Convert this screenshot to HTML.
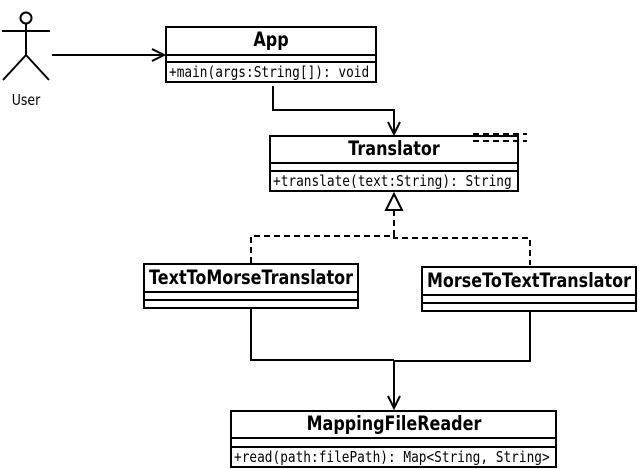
<!DOCTYPE html>
<html><head><style>html,body{margin:0;padding:0;background:#fff}</style></head><body>
<svg width="639" height="469" xmlns="http://www.w3.org/2000/svg" style="display:block">
<g fill="none" stroke="#000" stroke-width="2">
<circle cx="26" cy="18" r="5.5"/>
<line x1="26" y1="24" x2="26" y2="55"/>
<line x1="2" y1="31" x2="50" y2="31"/>
<line x1="26" y1="55" x2="3" y2="80"/>
<line x1="26" y1="55" x2="49" y2="80"/>
<line x1="52" y1="55" x2="164" y2="55"/>
<polyline points="152,49 164,55 152,61"/>
<rect x="166" y="27" width="210" height="55" fill="#fff"/>
<line x1="166" y1="55" x2="376" y2="55"/><line x1="166" y1="62" x2="376" y2="62"/>
<polyline points="273,86 273,110 394,110 394,134"/>
<polyline points="388,122 394,134 400,122"/>
<rect x="270" y="136" width="248" height="55" fill="#fff"/>
<line x1="270" y1="163" x2="518" y2="163"/><line x1="270" y1="171" x2="518" y2="171"/>
<g stroke-dasharray="6,4">
<line x1="473" y1="134" x2="527" y2="134"/><line x1="473" y1="141" x2="527" y2="141"/>
<polyline points="394,210 394,236 251,236 251,264"/>
<polyline points="394,236 394,238 530,238 530,265"/>
</g>
<polygon points="394,194 386,210 402,210" fill="#fff"/>
<rect x="144" y="264" width="214" height="44" fill="#fff"/>
<line x1="144" y1="292" x2="358" y2="292"/><line x1="144" y1="300" x2="358" y2="300"/>
<rect x="422" y="267" width="214" height="44" fill="#fff"/>
<line x1="422" y1="295" x2="636" y2="295"/><line x1="422" y1="303" x2="636" y2="303"/>
<polyline points="251,308 251,360 394,360"/>
<polyline points="530,311 530,361 394,361"/>
<line x1="394" y1="360" x2="394" y2="408"/>
<polyline points="388,396 394,408 400,396"/>
<rect x="231" y="411" width="325" height="56" fill="#fff"/>
<line x1="231" y1="438" x2="556" y2="438"/><line x1="231" y1="447" x2="556" y2="447"/>
</g>
<g style="font-family:'DejaVu Sans','Liberation Sans',sans-serif" fill="#000">
<g transform="translate(26,105) scale(1,1.2)"><text style="font-size:12.5px" text-anchor="middle">User</text></g>
<g style="font-weight:bold;font-size:16px" text-anchor="middle">
<g transform="translate(271,46) scale(1,1.2)"><text>App</text></g>
<g transform="translate(394,155) scale(1,1.2)"><text>Translator</text></g>
<g transform="translate(251,284) scale(1,1.2)"><text>TextToMorseTranslator</text></g>
<g transform="translate(529,287) scale(1,1.2)"><text>MorseToTextTranslator</text></g>
<g transform="translate(394,430) scale(1,1.2)"><text>MappingFileReader</text></g>
</g>
<g style="font-family:'DejaVu Sans Mono','Liberation Mono',monospace;font-size:12.8px">
<g transform="translate(169,77) scale(1,1.2)"><text>+main(args:String[]): void</text></g>
<g transform="translate(273,186) scale(1,1.2)"><text>+translate(text:String): String</text></g>
<g transform="translate(234,462) scale(1,1.2)"><text>+read(path:filePath): Map&lt;String, String&gt;</text></g>
</g>
</g>
</svg>
</body></html>
